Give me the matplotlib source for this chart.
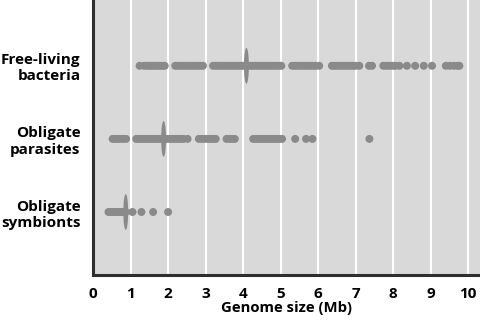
import matplotlib
matplotlib.use("Agg")
import matplotlib.pyplot as plt
from matplotlib.patches import Ellipse

categories = ["Free-living\nbacteria", "Obligate\nparasites", "Obligate\nsymbionts"]
row_positions = [3, 2, 1]

free_living = [1.24,
    1.36, 1.44, 1.50, 1.56, 1.62, 1.68, 1.74, 1.80, 1.86, 1.91,
    2.19, 2.25, 2.32, 2.38, 2.45, 2.52, 2.58, 2.65, 2.72, 2.79, 2.86, 2.93,
    3.20, 3.27, 3.33, 3.40, 3.47, 3.53, 3.60, 3.67, 3.73, 3.80, 3.87, 3.94, 4.00,
    4.18, 4.25, 4.32, 4.39, 4.46, 4.53, 4.60, 4.67, 4.74, 4.81, 4.88, 4.95, 5.02,
    5.31, 5.38, 5.45, 5.52, 5.59, 5.66, 5.73, 5.80, 5.87, 5.94, 6.03,
    6.37, 6.44, 6.51, 6.58, 6.65, 6.72, 6.79, 6.86, 6.93, 7.00, 7.10,
    7.36, 7.44,
    7.74, 7.82, 7.90, 7.98, 8.06, 8.17,
    8.37,
    8.59, 8.82, 9.04,
    9.41, 9.52, 9.63, 9.72, 9.77]

parasites = [0.52, 0.58, 0.65, 0.72, 0.80, 0.88,
    1.15, 1.22, 1.29, 1.36, 1.43, 1.50, 1.57, 1.64, 1.71, 1.78, 1.85, 1.92,
    1.99, 2.06, 2.13, 2.20, 2.27, 2.34, 2.41, 2.52,
    2.82, 2.90, 2.98, 3.06, 3.14, 3.20, 3.27,
    3.56, 3.64, 3.71, 3.78,
    4.27, 4.34, 4.41, 4.48, 4.55, 4.62, 4.69, 4.76, 4.83, 4.90, 4.97, 5.04,
    5.39, 5.68, 5.85, 7.37]

symbionts = [0.41, 0.47, 0.53, 0.59, 0.65, 0.71, 0.77, 0.83, 0.87,
    1.05, 1.29, 1.60, 2.00]

medians = [4.09, 1.88, 0.87]
x_ticks = [0, 1, 2, 3, 4, 5, 6, 7, 8, 9, 10]

DOT = "#8a8a8a"
BG = "#d9d9d9"

fig = plt.figure(figsize=(4.8, 3.2), dpi=100)
ax = fig.add_axes([0.194, 0.141, 0.806, 0.859])
ax.set_facecolor(BG)

for vals, y in zip([free_living, parasites, symbionts], row_positions):
    ax.scatter(vals, [y] * len(vals), s=33, color=DOT, edgecolors="none", zorder=3)

for m, y in zip(medians, row_positions):
    ax.add_patch(Ellipse((m, y), width=0.13, height=0.49, color=DOT, zorder=4, lw=0))

ax.set_xlim(0, 10.32)
ax.set_ylim(0.14, 3.9)
ax.set_xticks(x_ticks)
ax.set_xticklabels([str(t) for t in x_ticks])
ax.set_yticks(row_positions)
ax.set_yticklabels(categories, ha="right", multialignment="right")
ax.grid(axis="x", color="white", linewidth=1.5, zorder=1)
ax.set_axisbelow(True)
ax.tick_params(axis="both", length=0, labelsize=11)
ax.tick_params(axis="x", pad=9)
ax.tick_params(axis="y", pad=9)
for lbl in ax.get_xticklabels() + ax.get_yticklabels():
    lbl.set_fontfamily("Open Sans")
    lbl.set_fontweight("bold")
ax.set_xlabel("Genome size (Mb)", fontfamily="Open Sans", fontweight="bold",
              fontsize=10.7, labelpad=0)

for side in ["top", "right"]:
    ax.spines[side].set_visible(False)
for side in ["left", "bottom"]:
    ax.spines[side].set_color("#2e2e2e")
    ax.spines[side].set_linewidth(2.2)

fig.savefig("out.png", dpi=100)
